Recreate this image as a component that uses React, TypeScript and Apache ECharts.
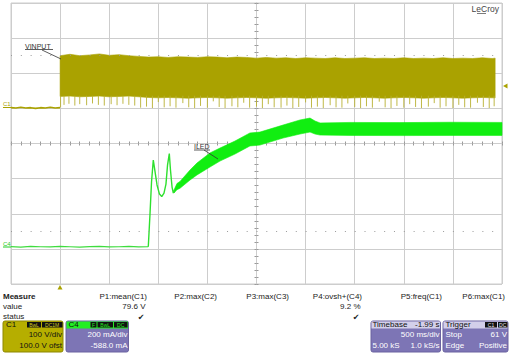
import React, { useEffect, useRef } from 'react';
import * as echarts from 'echarts';

// ---------- DATA ----------
// Time axis: seconds relative to trigger (500 ms/div, 10 div)
// C1 = VINPUT (100 V/div, offset 100 V)
const c1PreTime = [-0.5, -0.45, -0.4, -0.35, -0.3, -0.25, -0.2, -0.15, -0.1, -0.05, 0];
const c1PreVolts = [2, 1, 3, 1, 2, 0, 2, 1, 3, 1, 2];

const c1BandTime = [0, 0.1, 0.2, 0.3, 0.4, 0.5, 0.6, 0.7, 0.8, 0.9, 1.0, 1.1, 1.2, 1.3, 1.4, 1.5, 1.6, 1.7, 1.8, 1.9, 2.0,
  2.1, 2.2, 2.3, 2.4, 2.5, 2.6, 2.7, 2.8, 2.9, 3.0, 3.1, 3.2, 3.3, 3.4, 3.5, 3.6, 3.7, 3.8, 3.9, 4.0, 4.1, 4.2, 4.3, 4.4, 4.43];
const c1BandHigh = [150, 154, 150, 152, 155, 151, 153, 150, 148, 146, 147, 145, 147, 146, 145, 147, 146, 144, 146, 145, 143,
  145, 143, 144, 142, 144, 143, 142, 144, 142, 143, 144, 142, 143, 142, 144, 142, 143, 142, 144, 142, 143, 142, 144, 142, 143];
const c1BandLow = [34, 35, 33, 34, 35, 33, 34, 35, 33, 31, 30, 31, 30, 29, 30, 31, 30, 29, 30, 31, 30,
  29, 30, 31, 30, 29, 30, 31, 30, 29, 30, 31, 30, 29, 30, 31, 30, 29, 30, 31, 30, 29, 30, 31, 30, 30];

// downward switching spikes below the dense band: [time, lowest volts]
const c1SpikeTop = 36;
const c1Spikes = [
  [0.005, 3], [0.04, 10], [0.09, 13], [0.15, 8], [0.2, 12], [0.27, 9], [0.33, 14], [0.39, 10], [0.45, 8], [0.52, 12],
  [0.58, 9], [0.64, 13], [0.7, 10], [0.76, 8], [0.82, 2], [0.88, 5], [0.94, 1], [1.0, 18], [1.06, 3], [1.12, 6],
  [1.18, 2], [1.25, 15], [1.31, 3], [1.37, 1], [1.43, 7], [1.5, 2], [1.56, 20], [1.62, 4], [1.68, 1], [1.75, 6],
  [1.81, 3], [1.87, 16], [1.93, 2], [2.0, 5], [2.06, 1], [2.12, 12], [2.18, 3], [2.25, 2], [2.31, 8], [2.37, 1],
  [2.43, 4], [2.5, 17], [2.56, 2], [2.62, 5], [2.68, 1], [2.75, 9], [2.81, 3], [2.87, 2], [2.93, 14], [3.0, 4],
  [3.06, 1], [3.12, 6], [3.18, 2], [3.25, 19], [3.31, 3], [3.37, 1], [3.43, 7], [3.5, 2], [3.56, 12], [3.62, 4],
  [3.68, 1], [3.75, 5], [3.81, 15], [3.87, 2], [3.93, 6], [4.0, 1], [4.06, 10], [4.12, 3], [4.18, 2], [4.25, 16],
  [4.31, 4], [4.37, 1], [4.42, 6],
];

// C4 = ILED (200 mA/div, offset -588 mA)
const c4PreTime = [-0.5, -0.4, -0.3, -0.2, -0.1, 0, 0.1, 0.2, 0.3, 0.4, 0.5, 0.6, 0.7, 0.8, 0.898];
const c4PreMilliAmps = [1, -2, 2, 0, -1, 2, 0, -2, 1, 2, -1, 0, 2, -1, 0];

const c4EdgeTime = [0.898, 0.915, 0.931, 0.949, 0.966, 0.987, 1.012, 1.035, 1.058, 1.078, 1.094, 1.112, 1.124, 1.14, 1.153, 1.165];
const c4EdgeMilliAmps = [0, 181, 369, 494, 431, 352, 300, 286, 306, 357, 465, 531, 437, 340, 306, 323];

const c4BandTime = [1.16, 1.19, 1.221, 1.323, 1.394, 1.526, 1.628, 1.781, 1.933, 2.035, 2.27, 2.443, 2.545, 2.596, 2.647, 2.952, 3.461, 3.97, 4.5];
const c4BandHigh = [323, 360, 372, 437, 477, 534, 562, 602, 648, 653, 693, 722, 733, 716, 705, 708, 707, 709, 708];
const c4BandLow = [306, 325, 333, 380, 409, 454, 488, 528, 574, 579, 619, 642, 653, 642, 636, 634, 633, 634, 634];

// Measurement table
const measureRows = ['value', 'status'];
const measureNames = ['P1:mean(C1)', 'P2:max(C2)', 'P3:max(C3)', 'P4:ovsh+(C4)', 'P5:freq(C1)', 'P6:max(C1)'];
const measureValues = ['79.6 V', '', '', '9.2 %', '', ''];
const measureStatus = ['✔', '', '', '✔', '', ''];

// ---------- STYLE ----------
const FONT = '"Liberation Sans", Arial, "DejaVu Sans", sans-serif';
const YEL = '#aaa200';
const GRN = '#11ee11';
const PURPLE = '#7d75b5';
const LAVENDER = '#d3cfea';
const GRIDC = '#cdcdcd';

function txt(text: string, x: number, y: number, o: any = {}) {
  const size = o.size ?? 8;
  const align = o.align ?? 'left';
  return {
    type: 'text', x, y, silent: true, z: 100,
    style: {
      text, fill: o.color ?? '#333',
      font: `${o.weight ?? 'normal'} ${size}px ${FONT}`,
      align, verticalAlign: 'middle', textAlign: align, textVerticalAlign: 'middle',
    },
  };
}
function rect(x: number, y: number, w: number, h: number, fill: string, o: any = {}) {
  return { type: 'rect', silent: true, z: 90, shape: { x, y, width: w, height: h, r: o.r ?? 0 }, style: { fill, stroke: o.stroke ?? null, lineWidth: o.lw ?? 1 } };
}
function seg(x1: number, y1: number, x2: number, y2: number, color: string, w = 0.8) {
  return { type: 'line', silent: true, z: 100, shape: { x1, y1, x2, y2 }, style: { stroke: color, lineWidth: w } };
}

function bandSeries(times: number[], high: number[], low: number[], color: string, yAxisIndex: number) {
  return {
    type: 'custom', xAxisIndex: 0, yAxisIndex, silent: true, z: 3,
    data: [[times[0], high[0]]],
    renderItem: (_p: any, api: any) => {
      const pts: number[][] = [];
      for (let i = 0; i < times.length; i++) pts.push(api.coord([times[i], high[i]]));
      for (let i = times.length - 1; i >= 0; i--) pts.push(api.coord([times[i], low[i]]));
      return { type: 'polygon', shape: { points: pts }, style: { fill: color, stroke: color, lineWidth: 0.6 } };
    },
  };
}

const divAxisX = (pos: string) => ({
  type: 'value', min: -5, max: 5, interval: 0.2, position: pos,
  axisLine: { show: true, onZero: true, onZeroAxisIndex: 2, lineStyle: { color: GRIDC, width: 1 } },
  axisTick: { show: true, inside: true, length: 2, lineStyle: { color: '#9a9a9a', width: 1 } },
  axisLabel: { show: false }, splitLine: { show: false },
});
const divAxisY = (pos: string) => ({
  type: 'value', min: -4, max: 4, interval: 0.2, position: pos,
  axisLine: { show: true, onZero: true, onZeroAxisIndex: 1, lineStyle: { color: GRIDC, width: 1 } },
  axisTick: { show: true, inside: true, length: 2, lineStyle: { color: '#9a9a9a', width: 1 } },
  axisLabel: { show: false }, splitLine: { show: false },
});

export default function App() {
  const ref = useRef<HTMLDivElement>(null);
  useEffect(() => {
    if (!ref.current) return;
    const chart = echarts.init(ref.current, null, { renderer: 'svg' });

    const BT = 321; // top of the channel boxes
    const HY = BT + 3.6; // header text centre
    const graphic: any[] = [];
    // waveform annotations
    graphic.push(txt('VINPUT', 25, 46, { size: 7 }), seg(25, 49.5, 53, 49.5, '#333'), seg(42, 50, 61, 59, '#333'));
    graphic.push(txt('ILED', 194, 146, { size: 7 }), seg(194, 150, 210, 150, '#333'), seg(204, 150, 218, 159, '#333'));
    graphic.push(txt('C1', 3, 104, { size: 6, color: YEL }), seg(3, 107.5, 11, 107.5, YEL, 1));
    graphic.push(txt('C4', 3, 243.5, { size: 6, color: '#22cc22' }), seg(3, 247, 11, 247, '#22cc22', 1));
    graphic.push({ type: 'polygon', silent: true, z: 100, shape: { points: [[57.5, 289.5], [62.5, 289.5], [60, 285]] }, style: { fill: YEL } });
    graphic.push({ type: 'polygon', silent: true, z: 100, shape: { points: [[503, 86], [507.5, 83.5], [507.5, 88.5]] }, style: { fill: YEL } });
    graphic.push(txt('LeCroy', 499, 8.5, { size: 8.5, color: '#444', align: 'right' }), seg(477, 13.5, 486, 13.5, '#444', 0.7));

    // measure table
    graphic.push(txt('Measure', 3, 296, { weight: 'bold', color: '#222' }));
    measureRows.forEach((r, i) => graphic.push(txt(r, 3, 306.5 + i * 10.3, { color: '#222' })));
    const colRight = [147, 217, 289, 362, 442, 505];
    measureNames.forEach((n, i) => {
      graphic.push(txt(n, colRight[i], 296, { align: 'right', color: '#222' }));
      if (measureValues[i]) graphic.push(txt(measureValues[i], colRight[i] - 1.5, 306.5, { align: 'right', color: '#222' }));
      if (measureStatus[i]) graphic.push(txt(measureStatus[i], colRight[i] - 2.5, 317, { align: 'right', color: '#222' }));
    });

    // C1 box
    graphic.push(rect(3, BT, 60, 352 - BT, '#b6ae00', { r: 2, stroke: '#8d8700' }));
    graphic.push(txt('C1', 6, HY, { color: '#111' }));
    graphic.push(rect(27, BT + 1, 14, 5.5, '#111'), txt('BwL', 34, HY + 0.2, { size: 5, color: '#d4cc20', align: 'center' }));
    graphic.push(rect(42, BT + 1, 20.5, 5.5, '#111'), txt('DC1M', 52.2, HY + 0.2, { size: 5, color: '#d4cc20', align: 'center' }));
    graphic.push(txt('100 V/div', 62, 334, { align: 'right', color: '#111' }));
    graphic.push(txt('100.0 V ofst', 62, 345, { align: 'right', color: '#111' }));

    // C4 box
    graphic.push(rect(66, BT, 62.5, 352 - BT, PURPLE, { r: 2, stroke: '#6a62a0' }));
    graphic.push(rect(66.5, BT + 0.5, 61.5, 7, '#22ee22'));
    graphic.push(txt('C4', 68.5, HY, { color: '#111' }));
    graphic.push(rect(90.5, BT + 1, 6, 5.5, '#111'), txt('F', 93.5, HY + 0.2, { size: 5, color: '#22ee22', align: 'center' }));
    graphic.push(rect(97.5, BT + 1, 15.5, 5.5, '#111'), txt('BwL', 105.2, HY + 0.2, { size: 5, color: '#22ee22', align: 'center' }));
    graphic.push(rect(114, BT + 1, 13.5, 5.5, '#111'), txt('DC', 120.7, HY + 0.2, { size: 5, color: '#22ee22', align: 'center' }));
    graphic.push(txt('200 mA/div', 127.5, 334, { align: 'right', color: '#fff' }));
    graphic.push(txt('-588.0 mA', 127.5, 345, { align: 'right', color: '#fff' }));

    // Timebase box
    graphic.push(rect(371, BT, 69.5, 352 - BT, PURPLE, { r: 2, stroke: '#6a62a0' }));
    graphic.push(rect(371.5, BT + 0.5, 68.5, 7, LAVENDER));
    graphic.push(txt('Timebase', 372.5, HY, { color: '#111' }));
    graphic.push(txt('-1.99 s', 439.5, HY, { align: 'right', color: '#111' }));
    graphic.push(txt('500 ms/div', 439.5, 334, { align: 'right', color: '#fff' }));
    graphic.push(txt('5.00 kS', 372.5, 345, { color: '#fff' }));
    graphic.push(txt('1.0 kS/s', 439.5, 345, { align: 'right', color: '#fff' }));

    // Trigger box
    graphic.push(rect(443, BT, 65, 352 - BT, PURPLE, { r: 2, stroke: '#6a62a0' }));
    graphic.push(rect(443.5, BT + 0.5, 64, 7, LAVENDER));
    graphic.push(txt('Trigger', 445.5, HY, { color: '#111' }));
    graphic.push(rect(485, BT + 1, 12, 5.5, '#111'), txt('C1', 491, HY + 0.2, { size: 5, color: '#e8e8e8', align: 'center' }));
    graphic.push(rect(498, BT + 1, 9.5, 5.5, '#111'), txt('DC', 502.7, HY + 0.2, { size: 5, color: '#e8e8e8', align: 'center' }));
    graphic.push(txt('Stop', 445.5, 334, { color: '#fff' }));
    graphic.push(txt('61 V', 507, 334, { align: 'right', color: '#fff' }));
    graphic.push(txt('Edge', 445.5, 345, { color: '#fff' }));
    graphic.push(txt('Positive', 507, 345, { align: 'right', color: '#fff' }));

    const option: any = {
      animation: false,
      backgroundColor: '#ffffff',
      grid: { left: 11, top: 3, width: 491, height: 281, show: true, borderColor: GRIDC, borderWidth: 1, backgroundColor: 'transparent' },
      xAxis: [
        {
          type: 'value', min: -0.5, max: 4.5, interval: 0.5,
          axisLine: { show: false }, axisTick: { show: false }, axisLabel: { show: false },
          splitLine: { show: true, lineStyle: { color: GRIDC, width: 1 } },
        },
        divAxisX('bottom'),
        divAxisX('top'),
      ],
      yAxis: [
        {
          type: 'value', min: -500, max: 300, interval: 100,
          axisLine: { show: false }, axisTick: { show: false }, axisLabel: { show: false },
          splitLine: { show: true, lineStyle: { color: GRIDC, width: 1 } },
        },
        { type: 'value', min: -212, max: 1388, show: false, splitLine: { show: false } },
        divAxisY('left'),
        divAxisY('right'),
      ],
      graphic,
      series: [
        {
          type: 'line', xAxisIndex: 1, yAxisIndex: 2, silent: true, symbol: 'none',
          data: [[0, 0]], lineStyle: { opacity: 0 },
          markLine: {
            silent: true, symbol: ['none', 'none'], label: { show: false },
            lineStyle: { color: '#9a9a9a', type: [1, 8.82], width: 1 },
            data: [{ yAxis: 2.5 }, { yAxis: -2.5 }],
          },
        },
        {
          type: 'line', xAxisIndex: 0, yAxisIndex: 0, symbol: 'none', silent: true, z: 4,
          data: c1PreTime.map((t, i) => [t, c1PreVolts[i]]),
          lineStyle: { color: YEL, width: 1.6 },
        },
        bandSeries(c1BandTime, c1BandHigh, c1BandLow, YEL, 0),
        {
          type: 'custom', xAxisIndex: 0, yAxisIndex: 0, silent: true, z: 3,
          data: c1Spikes,
          renderItem: (_p: any, api: any) => {
            const a = api.coord([api.value(0), c1SpikeTop]);
            const b = api.coord([api.value(0), api.value(1)]);
            return { type: 'line', shape: { x1: a[0], y1: a[1], x2: b[0], y2: b[1] }, style: { stroke: '#b8b032', lineWidth: 1, opacity: 0.9 } };
          },
        },
        {
          type: 'line', xAxisIndex: 0, yAxisIndex: 1, symbol: 'none', silent: true, z: 4,
          data: c4PreTime.map((t, i) => [t, c4PreMilliAmps[i]]),
          lineStyle: { color: '#3fdc3f', width: 1.2 },
        },
        {
          type: 'line', xAxisIndex: 0, yAxisIndex: 1, symbol: 'none', silent: true, z: 4,
          data: c4EdgeTime.map((t, i) => [t, c4EdgeMilliAmps[i]]),
          lineStyle: { color: '#2ee02e', width: 1.4 },
        },
        bandSeries(c4BandTime, c4BandHigh, c4BandLow, GRN, 1),
      ],
    };
    chart.setOption(option);
    return () => chart.dispose();
  }, []);
  return <div ref={ref} style={{ position: 'absolute', left: 0, top: 0, width: 509, height: 353, background: '#fff' }} />;
}
